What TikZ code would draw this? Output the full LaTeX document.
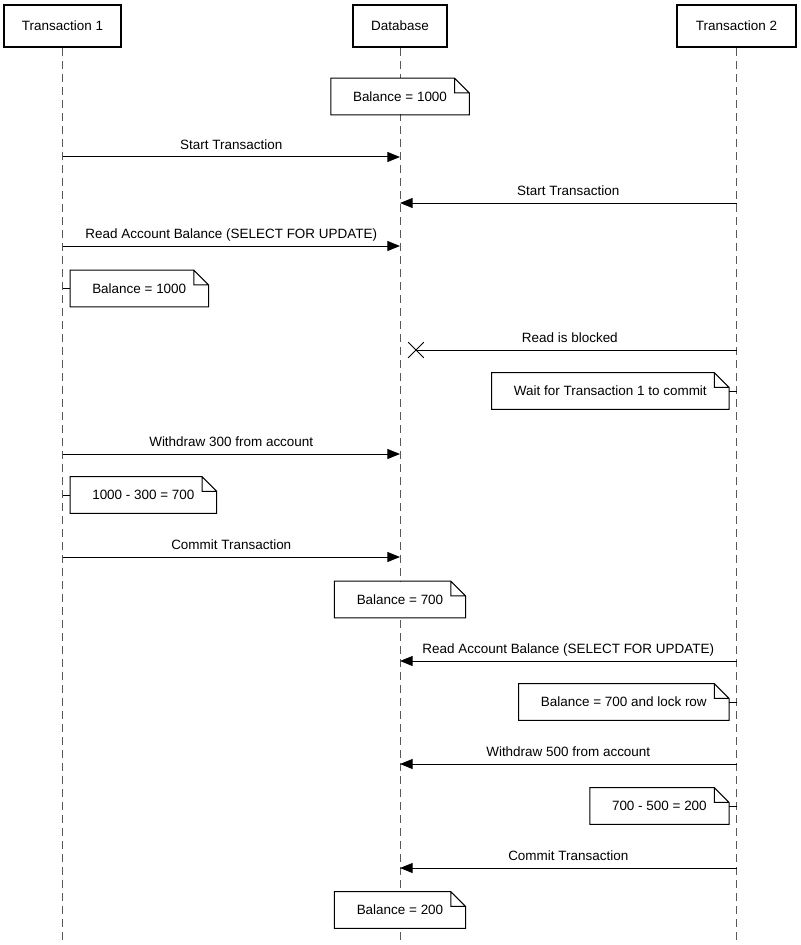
\documentclass[tikz,border=0pt]{standalone}
\usepackage{fontspec}
\setmainfont{Liberation Sans}
\usetikzlibrary{arrows.meta, shapes.misc}

\begin{document}
\begin{tikzpicture}[x=0.75pt, y=-0.75pt, font=\fontsize{10.1}{12}\selectfont,
  actor/.style={draw, line width=1.5pt, minimum height=32pt},
  life/.style={dash pattern=on 6pt off 3.75pt, draw=black!65, line width=0.75pt},
  msg/.style={-{Triangle[length=9.5pt,width=7.5pt]}, line width=0.75pt},
  lbl/.style={above, text depth=0.2em, inner sep=3pt},
  note/.style={fill=white, minimum height=27pt, inner xsep=16.5pt},
  fold/.style={line width=0.75pt}]
\useasboundingbox (0,0) rectangle (800,945);

\node[actor, minimum width=87.75pt] (t1) at (62.5,26) {Transaction 1};
\node[actor, minimum width=70.5pt] (db) at (400,26) {Database};
\node[actor, minimum width=89.25pt] (t2) at (736.5,26) {Transaction 2};

\coordinate (end) at (0,943);
\draw[life] (t1.south) -- (t1 |- end);
\draw[life] (db.south) -- (db |- end);
\draw[life] (t2.south) -- (t2 |- end);

\coordinate (r1) at (0,157);
\coordinate (r2) at (0,203);
\coordinate (r3) at (0,246);
\coordinate (r5) at (0,454);
\coordinate (r6) at (0,557);
\coordinate (r7) at (0,661);
\coordinate (r8) at (0,764);
\coordinate (r9) at (0,868);

\draw[msg] (t1 |- r1) -- node[lbl] {Start Transaction} (db |- r1);
\draw[msg] (t2 |- r2) -- node[lbl] {Start Transaction} (db |- r2);
\draw[msg] (t1 |- r3) -- node[lbl] {Read Account Balance (SELECT FOR UPDATE)} (db |- r3);

\node[cross out, draw, line width=0.75pt, minimum size=11pt, inner sep=0pt] (blk) at (416,350) {};
\draw[line width=0.75pt] (t2 |- blk) -- node[lbl, pos=0.52] {Read is blocked} (blk.center);

\draw[msg] (t1 |- r5) -- node[lbl] {Withdraw 300 from account} (db |- r5);
\draw[msg] (t1 |- r6) -- node[lbl] {Commit Transaction} (db |- r6);
\draw[msg] (t2 |- r7) -- node[lbl] {Read Account Balance (SELECT FOR UPDATE)} (db |- r7);
\draw[msg] (t2 |- r8) -- node[lbl] {Withdraw 500 from account} (db |- r8);
\draw[msg] (t2 |- r9) -- node[lbl] {Commit Transaction} (db |- r9);

% notes
\node[note] (n1) at (400,96.5) {Balance = 1000};
\node[note, anchor=west] (n2) at (70,288.5) {Balance = 1000};
\node[note, anchor=east] (n3) at (729,391) {Wait for Transaction 1 to commit};
\node[note, anchor=west] (n4) at (70,495) {1000 - 300 = 700};
\node[note] (n5) at (400,599.5) {Balance = 700};
\node[note, anchor=east] (n6) at (729,702) {Balance = 700 and lock row};
\node[note, anchor=east] (n7) at (729,806) {700 - 500 = 200};
\node[note] (n8) at (400,910) {Balance = 200};

\foreach \i in {1,...,8}
  \draw[fold] (n\i.north west) -- ([xshift=-11pt]n\i.north east) -- ([yshift=-11pt]n\i.north east)
    |- (n\i.south west) -- cycle
    ([xshift=-11pt]n\i.north east) |- ([yshift=-11pt]n\i.north east);

\draw[fold] (t1 |- n2.west) -- (n2.west);
\draw[fold] (t1 |- n4.west) -- (n4.west);
\draw[fold] (n3.east) -- (t2 |- n3.east);
\draw[fold] (n6.east) -- (t2 |- n6.east);
\draw[fold] (n7.east) -- (t2 |- n7.east);

\end{tikzpicture}
\end{document}
